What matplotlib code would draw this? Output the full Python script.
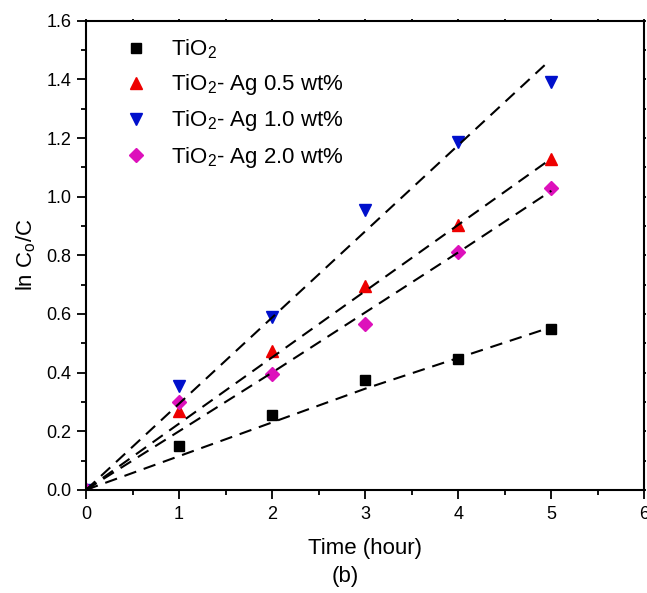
import numpy as np
import matplotlib
matplotlib.use("Agg")
import matplotlib.pyplot as plt
from matplotlib.ticker import MultipleLocator, FormatStrFormatter

plt.rcParams['font.family'] = ['Liberation Sans', 'DejaVu Sans']
plt.rcParams['mathtext.fontset'] = 'custom'
plt.rcParams['mathtext.rm'] = 'Liberation Sans'
plt.rcParams['mathtext.it'] = 'Liberation Sans'

# measured points
time_h = [0, 1, 2, 3, 4, 5]
tio2 = [0.0, 0.15, 0.255, 0.375, 0.445, 0.55]
ag05 = [0.0, 0.27, 0.475, 0.695, 0.905, 1.13]
ag10 = [0.0, 0.355, 0.59, 0.955, 1.185, 1.39]
ag20 = [0.0, 0.30, 0.395, 0.565, 0.81, 1.03]

# fitted lines
fit_x = [0, 1, 2, 3, 4, 5]
fit_tio2 = [0.0, 0.115, 0.23, 0.345, 0.45, 0.555]
fit_ag05 = [0.0, 0.226, 0.452, 0.678, 0.904, 1.13]
fit_ag10_x = [0, 4.95]
fit_ag10 = [0.0, 1.455]
fit_ag20 = [0.0, 0.20, 0.40, 0.605, 0.81, 1.02]

labels = ['TiO$_2$', 'TiO$_2$- Ag 0.5 wt%', 'TiO$_2$- Ag 1.0 wt%', 'TiO$_2$- Ag 2.0 wt%']

fig = plt.figure(figsize=(6.47, 5.93), dpi=100)
ax = fig.add_axes([0.133, 0.174, 0.863, 0.791])

dash = dict(color='black', ls=(0, (6, 3.8)), lw=1.5, zorder=3)
ax.plot(fit_x, fit_tio2, **dash)
ax.plot(fit_x, fit_ag05, **dash)
ax.plot(fit_ag10_x, fit_ag10, **dash)
ax.plot(fit_x, fit_ag20, **dash)

ax.plot(time_h, tio2, 's', color='black', ms=7, ls='none', label=labels[0], zorder=2)
ax.plot(time_h, ag05, '^', color='#ee0000', ms=9, ls='none', label=labels[1], zorder=2)
ax.plot(time_h, ag10, 'v', color='#0010cc', ms=9, ls='none', label=labels[2], zorder=2)
ax.plot(time_h, ag20, 'D', color='#dd11bb', ms=7, ls='none', label=labels[3], zorder=2)

ax.set_xlim(0, 6)
ax.set_ylim(0, 1.6)
ax.xaxis.set_major_locator(MultipleLocator(1))
ax.xaxis.set_minor_locator(MultipleLocator(0.5))
ax.yaxis.set_major_locator(MultipleLocator(0.2))
ax.yaxis.set_minor_locator(MultipleLocator(0.1))
ax.yaxis.set_major_formatter(FormatStrFormatter('%.1f'))
ax.tick_params(which='major', direction='out', length=6.5, width=1.3, labelsize=13, pad=4)
ax.tick_params(which='minor', direction='out', length=3.6, width=1.3)
ax.tick_params(axis='x', which='major', pad=5)
ax.tick_params(which='both', top=True, right=True)
ax.tick_params(which='both', axis='both', labeltop=False, labelright=False)
for t in ax.xaxis.get_major_ticks() + ax.xaxis.get_minor_ticks():
    t.tick2line.set_markersize(1.5)
for t in ax.yaxis.get_major_ticks() + ax.yaxis.get_minor_ticks():
    t.tick2line.set_markersize(1.5)
for s in ax.spines.values():
    s.set_linewidth(1.5)

ax.set_xlabel('Time (hour)', fontsize=16, labelpad=11)
ax.set_ylabel('ln C$_\\mathregular{o}$/C', fontsize=16, labelpad=6)
fig.text(0.533, 0.027, '(b)', fontsize=16, ha='center', va='center')

ax.legend(loc='upper left', frameon=False, fontsize=16, handletextpad=0.55,
          borderaxespad=0, labelspacing=0.5, bbox_to_anchor=(0.034, 0.983))

fig.savefig('out.png', dpi=100)
